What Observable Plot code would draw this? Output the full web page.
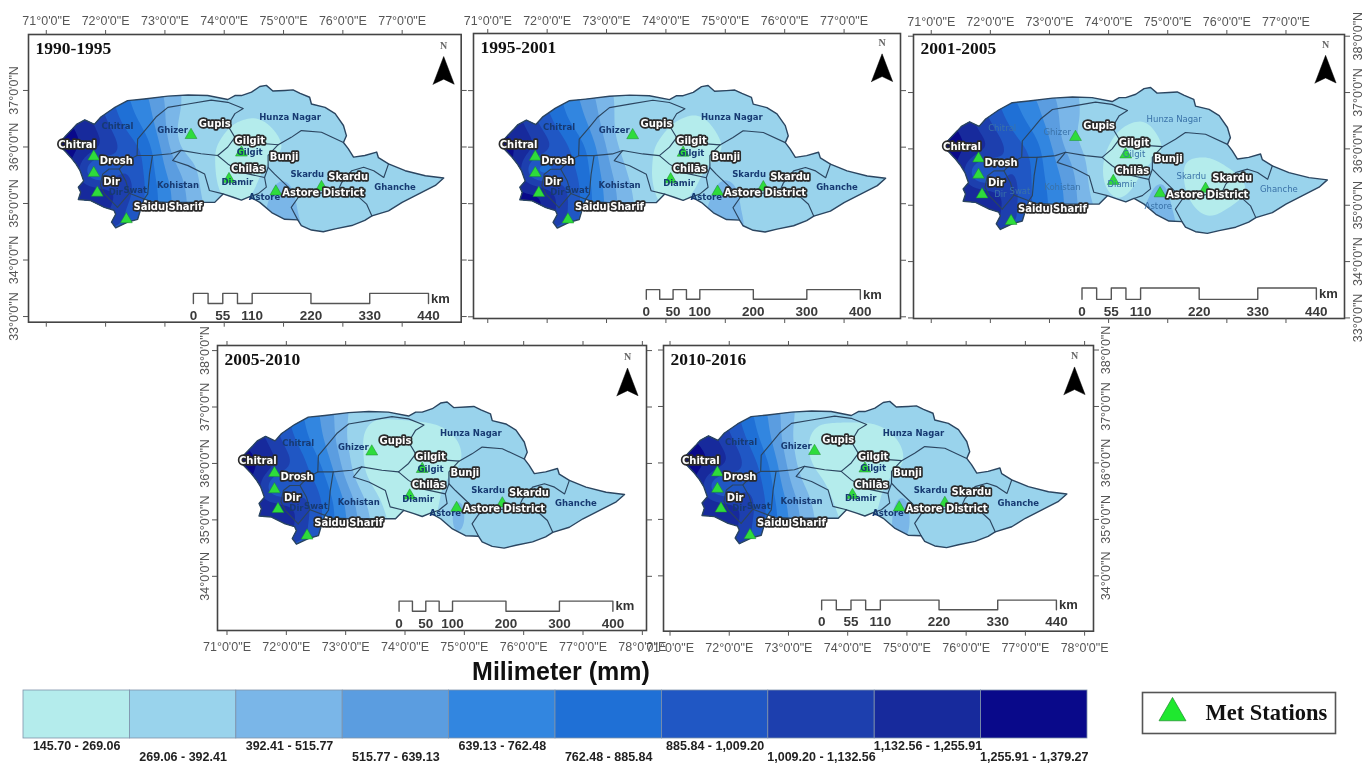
<!DOCTYPE html>
<html><head><meta charset="utf-8">
<style>
html,body{margin:0;padding:0;background:#fff;}
#page{position:relative;width:1370px;height:763px;overflow:hidden;filter:blur(0.45px);}
#page>svg,#page>div{position:absolute;}
</style>
<script src="https://cdn.jsdelivr.net/npm/d3@7"></script>
<script src="https://cdn.jsdelivr.net/npm/@observablehq/plot@0.6"></script>
</head><body><div id="page"></div>
<script>
// ---------- rainfall classes ----------
const classBreaks = [269.06,392.41,515.77,639.13,762.48,885.84,1009.20,1132.56,1255.91];
const classThresholds = [145.70,269.06,392.41,515.77,639.13,762.48,885.84,1009.20,1132.56,1255.91];
const classColors = ["#b4ecec","#99d3ec","#7ab6e8","#5b9de0","#3286e0","#1f70d6","#2057c4","#1d3fae","#172a9c","#09098a"];
const classLabels = ["145.70 - 269.06","269.06 - 392.41","392.41 - 515.77","515.77 - 639.13","639.13 - 762.48","762.48 - 885.84","885.84 - 1,009.20","1,009.20 - 1,132.56","1,132.56 - 1,255.91","1,255.91 - 1,379.27"];
const classLabelRow = [0,1,0,1,0,1,0,2,0,1];

// ---------- basin geometry (lon, lat) ----------
const basinOutline = [[71.20,36.05],[71.33,36.20],[71.44,36.32],[71.51,36.40],[71.65,36.48],[71.81,36.40],[71.92,36.53],[72.14,36.69],[72.37,36.82],[72.65,36.85],[73.05,36.90],[73.39,36.92],[73.72,36.91],[74.06,36.84],[74.18,36.91],[74.29,36.91],[74.46,36.97],[74.60,37.07],[74.71,37.09],[74.82,36.99],[75.02,37.00],[75.16,37.01],[75.28,36.95],[75.44,36.88],[75.47,36.76],[75.70,36.70],[75.87,36.59],[76.01,36.38],[76.06,36.20],[76.01,36.08],[76.09,35.97],[76.18,35.82],[76.37,35.85],[76.57,35.91],[76.60,35.81],[76.77,35.70],[77.05,35.58],[77.39,35.49],[77.70,35.45],[77.56,35.32],[77.28,35.17],[77.00,35.02],[76.77,34.87],[76.49,34.78],[76.37,34.70],[76.15,34.61],[75.87,34.55],[75.67,34.50],[75.47,34.53],[75.30,34.61],[75.24,34.71],[75.02,34.72],[74.80,34.84],[74.60,35.02],[74.43,35.12],[74.29,35.06],[74.15,35.11],[73.98,35.17],[73.84,35.02],[73.61,35.02],[73.05,35.02],[72.77,35.03],[72.65,35.08],[72.60,34.93],[72.54,34.72],[72.37,34.67],[72.17,34.57],[72.10,34.67],[72.17,34.81],[72.14,34.88],[71.98,34.93],[71.75,35.05],[71.54,35.07],[71.58,35.20],[71.54,35.29],[71.63,35.40],[71.57,35.58],[71.50,35.70],[71.41,35.82],[71.33,35.91]];
const ghizerLine = [[72.53,35.85],[72.54,36.14],[72.71,36.35],[72.85,36.53],[73.05,36.70],[73.39,36.76],[73.78,36.83],[74.06,36.79],[74.32,36.68],[74.18,36.59],[74.06,36.38],[74.18,36.17],[74.06,36.00],[73.89,35.85],[73.61,35.88],[73.27,35.94],[73.10,35.88],[72.79,35.85],[72.53,35.85]];
const diamirLine = [[73.27,35.94],[73.13,35.76],[73.39,35.67],[73.67,35.52],[73.75,35.23],[73.98,35.17]];
const kohistanLine = [[72.79,35.85],[72.74,35.52],[72.71,35.17],[72.65,35.08]];
const chilasLine = [[73.89,35.85],[74.06,35.70],[74.29,35.55],[74.68,35.46],[74.71,35.29],[74.57,35.17],[74.43,35.12]];
const hunzaLine = [[74.18,36.17],[74.40,36.08],[74.91,36.04],[75.13,36.17],[75.30,36.29],[75.64,36.26],[76.01,36.08]];
const astoreLine = [[74.91,36.04],[74.74,35.85],[74.74,35.64],[74.85,35.52],[75.08,35.29],[75.25,35.11],[75.13,34.93],[75.24,34.71]];
const bunjiLine = [[74.74,35.64],[74.68,35.46]];
const ghancheLine = [[76.77,35.70],[76.69,35.46],[76.52,35.58],[76.35,35.64],[76.15,35.58],[75.98,35.37],[75.92,35.23],[76.21,35.17],[76.40,34.99],[76.49,34.78]];
const skarduLine = [[75.25,35.11],[75.59,35.18],[75.92,35.23]];
const swatLine = [[72.53,35.85],[72.37,35.76],[72.23,35.61],[72.34,35.40],[72.40,35.18],[72.20,34.93]];
const swatEastLine = [[72.40,35.18],[72.65,35.08]];
const dirLine = [[72.23,35.61],[72.06,35.61],[71.95,35.52],[71.91,35.32],[71.98,35.17],[72.20,34.93]];
const districtLines = [ghizerLine,diamirLine,kohistanLine,chilasLine,hunzaLine,astoreLine,bunjiLine,ghancheLine,skarduLine,swatLine,swatEastLine,dirLine];

// ---------- met stations ----------
const stationLon = [71.80,71.80,71.86,72.35,73.44,74.29,74.08,74.87,75.64];
const stationLat = [35.83,35.54,35.19,34.72,36.21,35.90,35.43,35.21,35.29];

// ---------- rainfall (mm) ----------
const fieldLons = [71.1,71.5,71.9,72.3,72.7,73.0,73.3,73.7,74.1,74.6,75.1,75.7,76.3,77.0,77.8];
const fieldLats = [37.2,36.5,35.9,35.3,34.4];
const rain1990 = [
 [1200,1100,950,760,620,480,370,330,340,340,340,340,340,340,340],
 [1320,1250,1080,830,700,520,350,320,285,262,330,340,340,340,340],
 [1320,1320,1200,1010,880,580,390,310,190,180,280,330,340,340,340],
 [1250,1250,1300,1150,870,690,540,330,190,250,430,330,340,340,340],
 [1150,1150,1200,1050,900,700,560,400,320,410,470,330,340,340,340]];
const rain1995 = [
 [1150,1050,880,700,540,400,340,330,340,340,340,340,340,340,340],
 [1300,1180,960,770,620,440,320,310,280,255,320,340,340,340,340],
 [1320,1300,1150,950,780,510,350,295,190,180,285,330,340,340,340],
 [1300,1300,1320,1050,800,600,440,280,195,260,450,320,340,340,340],
 [1200,1200,1250,1000,800,620,470,330,290,430,480,330,340,340,340]];
const rain2001 = [
 [1150,1050,920,760,620,520,430,350,340,340,340,340,340,340,340],
 [1300,1250,1050,860,720,590,460,340,300,265,310,340,330,340,340],
 [1320,1320,1230,1020,890,680,520,340,215,190,290,275,310,330,340],
 [1280,1280,1300,1120,880,740,620,360,205,300,310,180,255,330,340],
 [1200,1200,1230,1070,900,770,640,460,380,470,430,320,330,330,340]];
const rain2005 = [
 [1150,1050,900,720,560,400,330,330,340,340,340,340,340,340,340],
 [1300,1200,1000,780,600,380,235,225,225,240,300,340,340,340,340],
 [1320,1320,1150,950,720,450,225,180,180,190,300,340,340,340,340],
 [1250,1250,1300,1100,830,640,420,220,180,220,310,330,340,340,340],
 [1150,1150,1230,1050,850,680,480,300,250,320,340,340,340,340,340]];
const rain2010 = [
 [1150,1050,930,780,600,420,340,330,340,340,340,340,340,340,340],
 [1300,1250,1070,860,640,420,255,240,235,245,310,340,340,340,340],
 [1320,1320,1230,1020,780,480,290,210,185,185,300,340,340,340,340],
 [1280,1280,1320,1130,830,620,420,280,190,240,320,330,340,340,340],
 [1180,1180,1250,1080,850,680,480,330,270,350,360,340,340,340,340]];
const stationRain1990 = [1030,620,1260,960,200,180,185,480,210];
const stationRain1995 = [1020,600,1330,1000,230,180,190,470,220];
const stationRain2001 = [1050,580,1280,1050,360,180,180,520,170];
const stationRain2005 = [1100,640,1290,1000,190,190,180,520,330];
const stationRain2010 = [1110,600,1290,1010,190,190,190,530,320];

// ---------- map labels ----------
const cityNames = ["Chitral","Drosh","Dir","Saidu Sharif","Gupis","Gilgit","Chilās","Bunji","Skardu","Astore District"];
const cityLon = [71.52,72.18,72.10,73.05,73.84,74.43,74.40,75.01,76.09,75.67];
const cityLat = [36.04,35.76,35.39,34.94,36.41,36.11,35.62,35.83,35.48,35.19];
const districtNames = ["Chitral","Ghizer","Hunza Nagar","Kohistan","Diamir","Gilgit","Skardu","Ghanche","Astore","Dir","Swat"];
const districtLon = [72.20,73.13,75.11,73.22,74.22,74.43,75.40,76.88,74.68,72.17,72.50];
const districtLat = [36.36,36.29,36.53,35.32,35.37,35.90,35.52,35.29,35.11,35.20,35.24];

// ---------- scale bars ----------
const barSteps440 = [0,27.5,55,82.5,110,220,330,440];
const barSteps400 = [0,25,50,75,100,200,300,400];
const kmPerDegree = 111;

const lonTicks = [71,72,73,74,75,76,77];
const lonTicksLong = [71,72,73,74,75,76,77,78];
const latTicks = [33,34,35,36,37];
const latTicksLong = [33,34,35,36,37,38];
const latTicksUpper = [34,35,36,37,38];

const panels = [
 {period:"1990-1995",rain:rain1990,st:stationRain1990,box:[28,34,460.7,321.7],lon:[70.70,77.995],lat:[32.90,37.99],
  lonT:lonTicks,latT:latTicks,lonSide:"top",latSide:"left",bar:barSteps440,barLon:73.48,barLat:[33.41,33.23],tip:[77.70,37.60],dark:"#173a72",weight:700,astore:[74.68,35.11],latPad:6},
 {period:"1995-2001",rain:rain1995,st:stationRain1995,box:[473,33,900,318],lon:[70.76,77.95],lat:[32.97,38.01],
  lonT:lonTicks,latT:latTicks,lonSide:"top",latSide:null,bar:barSteps400,barLon:73.67,barLat:[33.48,33.31],tip:[77.64,37.65],dark:"#173a72",weight:700,astore:[74.68,35.11],latPad:0},
 {period:"2001-2005",rain:rain2001,st:stationRain2001,box:[913,34,1344,318],lon:[70.70,77.99],lat:[32.99,38.03],
  lonT:lonTicks,latT:latTicksLong,lonSide:"top",latSide:"right",bar:barSteps440,barLon:73.55,barLat:[33.53,33.33],tip:[77.67,37.66],dark:"#3a72a8",weight:400,astore:[74.84,34.99],latPad:12},
 {period:"2005-2010",rain:rain2005,st:stationRain2005,box:[217,345,646,630],lon:[70.84,78.07],lat:[33.04,38.09],
  lonT:lonTicksLong,latT:latTicksUpper,lonSide:"bottom",latSide:"left",bar:barSteps400,barLon:73.90,barLat:[33.56,33.38],tip:[77.75,37.69],dark:"#173a72",weight:700,astore:[74.68,35.11],latPad:4},
 {period:"2010-2016",rain:rain2010,st:stationRain2010,box:[662.7,345,1092.7,630.7],lon:[70.89,78.15],lat:[33.02,38.08],
  lonT:lonTicksLong,latT:latTicksUpper,lonSide:"bottom",latSide:"right",bar:barSteps440,barLon:73.56,barLat:[33.57,33.40],tip:[77.83,37.70],dark:"#173a72",weight:700,astore:[74.68,35.11],latPad:12}
];

const page = document.getElementById("page");
const place = (el,left,top)=>{el.style.left=left+"px";el.style.top=top+"px";page.appendChild(el);};
const axisInk = "#555";
const latFmt = d=>`${d}°0'0"N`;
const lonFmt = d=>`${d}°0'0"E`;

function scaleBarPath(steps,p){
  const [hi,lo]=p.barLat, pts=[[steps[0],lo]];
  steps.slice(0,-1).forEach((k,i)=>{
    const lvl = i%2===0?hi:lo;
    pts.push([k,lvl],[steps[i+1],lvl]);
  });
  pts.push([steps[steps.length-1],lo]);
  return pts.map(([k,la])=>({lon:p.barLon+k/kmPerDegree,lat:la}));
}

panels.forEach(p=>{
  const m=28,[x0,y0,x1,y1]=p.box;
  const samples=[];
  fieldLats.forEach((la,r)=>fieldLons.forEach((lo,c)=>samples.push({lon:lo,lat:la,mm:p.rain[r][c]})));
  stationLon.forEach((lo,i)=>samples.push({lon:lo,lat:stationLat[i],mm:p.st[i]}));
  const stations=stationLon.map((lo,i)=>({lon:lo,lat:stationLat[i]}));
  const cities=cityNames.map((n,i)=>({n,lon:cityLon[i],lat:cityLat[i]}));
  const districts=districtNames.map((n,i)=>n==="Astore"?{n,lon:p.astore[0],lat:p.astore[1]}:{n,lon:districtLon[i],lat:districtLat[i]});
  const lines=districtLines.flatMap((l,id)=>l.map(([lon,lat])=>({lon,lat,id})));
  const ring=[...basinOutline,basinOutline[0]].map(([lon,lat])=>({lon,lat}));
  const barPts=scaleBarPath(p.bar,p);
  const barLabels=p.bar.filter((k,i)=>i===0||i===2||i>=4).map(k=>({k,lon:p.barLon+k/kmPerDegree,lat:p.barLat[1]}));
  const endLon=p.barLon+p.bar[p.bar.length-1]/kmPerDegree;
  const arrow=[[-0.178,-0.49],[0,0],[0.178,-0.49],[0,-0.40],[-0.178,-0.49]].map(([a,b])=>({lon:p.tip[0]+a,lat:p.tip[1]+b}));
  const otherLon=p.lonSide==="top"?"bottom":"top";
  const sides=["left","right"];
  const axisOpts={tickSize:5,label:null};
  const marks=[
    Plot.contour(samples,{x:"lon",y:"lat",fill:"mm",interpolate:"barycentric",thresholds:classThresholds,blur:4,stroke:"none"}),
    Plot.line(ring,{x:"lon",y:"lat",stroke:"#2b4560",strokeWidth:1.4,strokeLinejoin:"round"}),
    Plot.line(lines,{x:"lon",y:"lat",z:"id",stroke:"#2b4560",strokeWidth:1.15,strokeLinejoin:"round"}),
    Plot.dot(stations,{x:"lon",y:"lat",symbol:"triangle",r:4.4,fill:"#2edc3c",stroke:"#1c8a2c",strokeWidth:0.5}),
    Plot.text(districts,{x:"lon",y:"lat",text:"n",fill:p.dark,fontFamily:"DejaVu Sans",fontSize:8.5,fontWeight:p.weight}),
    Plot.text(cities,{x:"lon",y:"lat",text:"n",fill:"#fff",stroke:"#2a2a2a",strokeWidth:3.4,fontFamily:"DejaVu Sans",fontSize:10,fontWeight:700}),
    Plot.line(barPts,{x:"lon",y:"lat",stroke:"#555",strokeWidth:1.4}),
    Plot.text(barLabels,{x:"lon",y:"lat",text:d=>String(d.k),dy:12,fill:"#3a3a3a",fontFamily:"Liberation Sans",fontSize:13.5,fontWeight:700}),
    Plot.text(["km"],{x:()=>endLon,y:()=>(p.barLat[0]+p.barLat[1])/2,text:d=>d,dx:12,fill:"#333",fontFamily:"Liberation Sans",fontSize:13,fontWeight:700}),
    Plot.line(arrow,{x:"lon",y:"lat",fill:"#000",stroke:"#000",strokeWidth:0.5}),
    Plot.text(["N"],{x:()=>p.tip[0],y:()=>p.tip[1],text:d=>d,dy:-11,fill:"#666",fontFamily:"Liberation Serif",fontSize:10,fontWeight:700}),
    Plot.text([p.period],{text:d=>d,frameAnchor:"top-left",dx:7,dy:7,fill:"#111",fontFamily:"Liberation Serif",fontSize:17.5,fontWeight:700}),
    Plot.frame({stroke:"#444",strokeWidth:1.6}),
    Plot.axisX({...axisOpts,anchor:p.lonSide,ticks:p.lonT,tickFormat:lonFmt,tickPadding:p.lonSide==="top"?4:7}),
    Plot.axisX({...axisOpts,anchor:otherLon,ticks:p.lonT,fill:"none"}),
    ...sides.map(s=>s===p.latSide
      ?Plot.axisY({...axisOpts,anchor:s,ticks:p.latT,tickFormat:latFmt,tickRotate:-90,tickPadding:p.latPad})
      :Plot.axisY({...axisOpts,anchor:s,ticks:p.latT,fill:"none"}))
  ];
  const plot=Plot.plot({
    width:x1-x0+2*m,height:y1-y0+2*m,margin:m,
    x:{domain:p.lon},y:{domain:p.lat},
    color:{type:"threshold",domain:classBreaks,range:classColors},
    style:{background:"transparent",color:axisInk,font:"12.5px 'Liberation Sans'",overflow:"visible",maxWidth:"none"},
    marks
  });
  // clip the rainfall surface to the basin through the plot's own scales
  const X=plot.scale("x"),Y=plot.scale("y");
  const id="clip"+p.period;
  const ns="http://www.w3.org/2000/svg";
  const cp=document.createElementNS(ns,"clipPath");cp.setAttribute("id",id);
  const cpPath=document.createElementNS(ns,"path");
  cpPath.setAttribute("d",d3.line().x(d=>X.apply(d.lon)).y(d=>Y.apply(d.lat))(ring));
  cp.appendChild(cpPath);plot.appendChild(cp);
  plot.querySelector('g[aria-label="contour"]').setAttribute("clip-path",`url(#${id})`);
  place(plot,x0-m,y0-m);
});

// ---------- title ----------
const title=document.createElement("div");
title.textContent="Milimeter (mm)";
title.style.cssText="font:700 25px 'Liberation Sans';color:#111;width:300px;text-align:center;white-space:nowrap;";
place(title,411,657);

// ---------- colour legend ----------
const legendRows=classLabels.map((label,i)=>({label,color:classColors[i],row:classLabelRow[i]}));
const rowDrop=[11,22,22.5];
const legend=Plot.plot({
  width:1064,height:72,marginTop:0,marginLeft:0,marginRight:0,marginBottom:24,
  x:{domain:classLabels,padding:0,round:false,axis:null},
  style:{background:"transparent",overflow:"visible",maxWidth:"none"},
  marks:[
    Plot.cell(legendRows,{x:"label",fill:"color",stroke:"#7f93aa",strokeWidth:0.8}),
    ...rowDrop.map((dy,r)=>Plot.text(legendRows.filter(d=>d.row===r),{x:"label",text:"label",frameAnchor:"bottom",dy,fill:"#222",fontFamily:"Liberation Sans",fontSize:12.5,fontWeight:700}))
  ]
});
place(legend,23,690);

// ---------- station key ----------
const key=Plot.plot({
  width:193,height:41,margin:0,
  style:{background:"#fff",overflow:"visible",maxWidth:"none"},
  marks:[
    Plot.frame({stroke:"#555",strokeWidth:1.6}),
    Plot.dot(["Met Stations"],{frameAnchor:"left",dx:30,symbol:"triangle",r:10,fill:"#1fe82f",stroke:"#1a8a2a",strokeWidth:0.7}),
    Plot.text(["Met Stations"],{text:d=>d,frameAnchor:"left",dx:63,fill:"#111",fontFamily:"Liberation Serif",fontSize:22.5,fontWeight:700})
  ]
});
place(key,1142,692);
</script></body></html>
